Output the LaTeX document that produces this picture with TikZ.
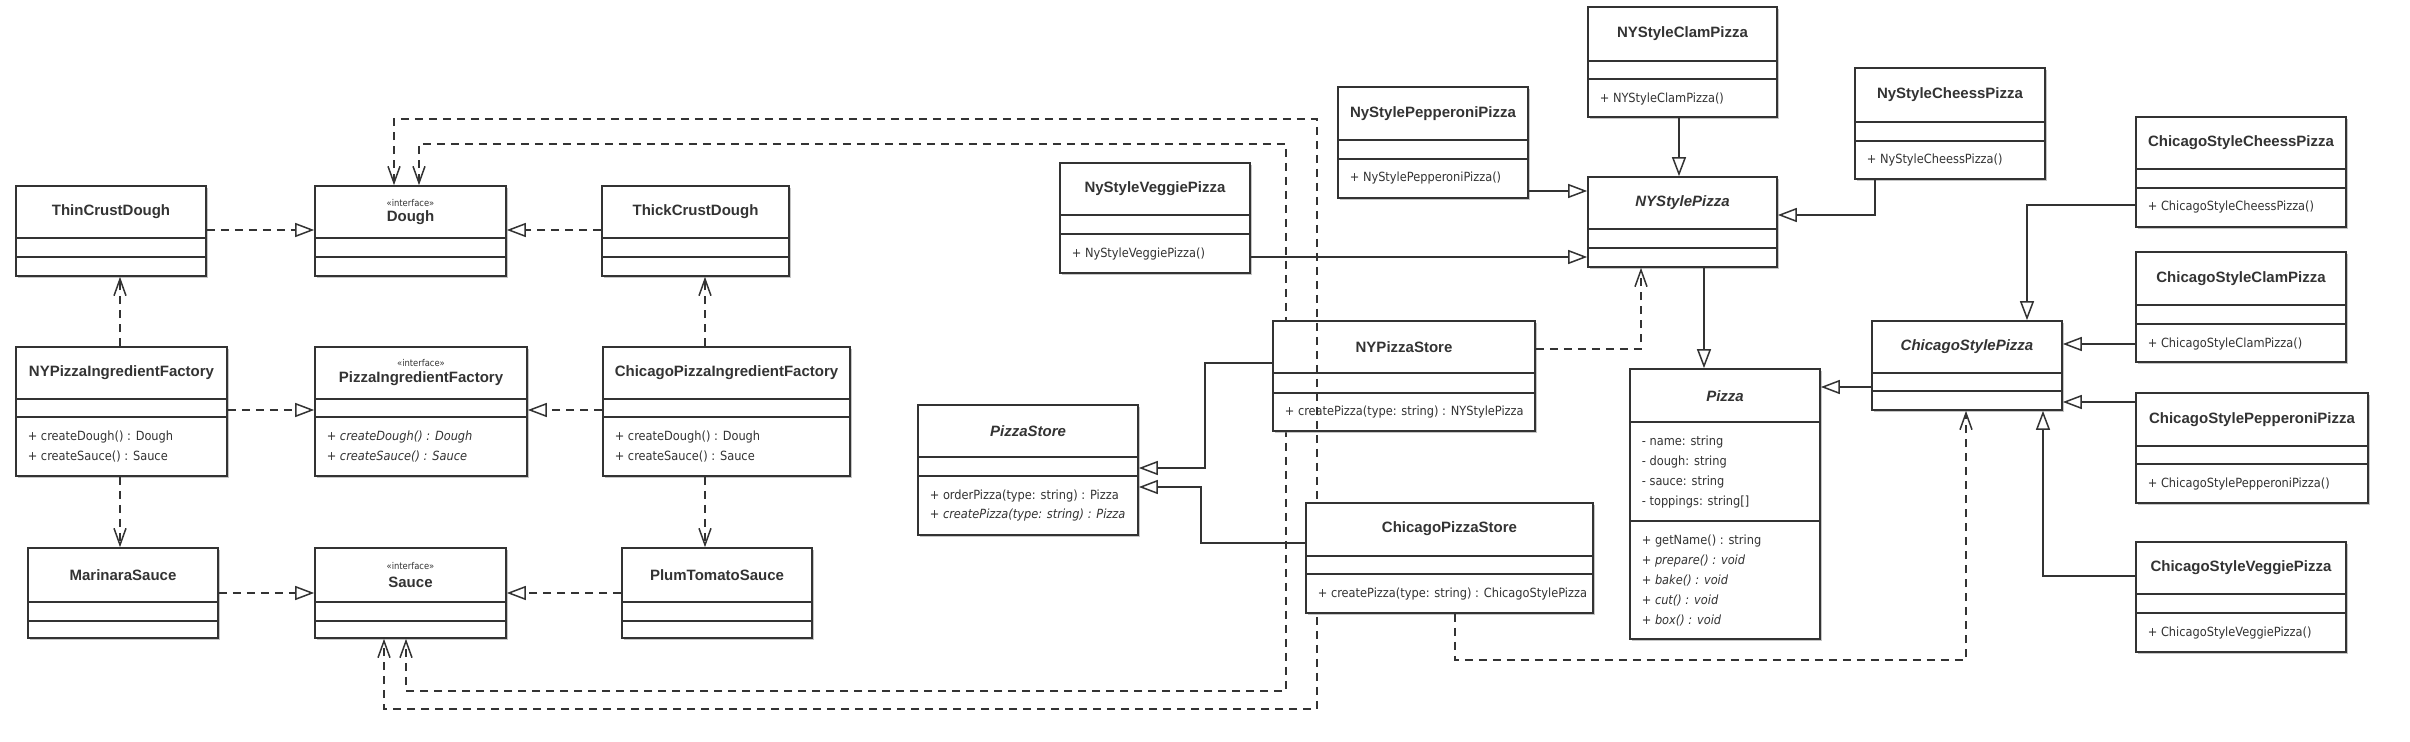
\documentclass[tikz,border=0pt]{standalone}
\usepackage{fontspec}
\setmainfont{Liberation Sans}
\newfontfamily\memfont{DejaVu Sans Condensed}
\usetikzlibrary{arrows.meta,fit,shadows}
\definecolor{ink}{HTML}{333333}
\tikzset{
 cls/.style={draw=ink, line width=0.5pt, fill=white, inner sep=0pt,
   drop shadow={shadow xshift=0.6pt, shadow yshift=-0.6pt, fill=black!45, opacity=0.5}},
 sepline/.style={draw=ink, line width=0.5pt},
 ttl/.style={font=\fontsize{4.5}{5}\selectfont\bfseries, text=ink, inner sep=0pt},
 ittl/.style={font=\fontsize{4.5}{5}\selectfont\bfseries\itshape, text=ink, inner sep=0pt},
 stereo/.style={font=\memfont\fontsize{2.8}{3}\selectfont, text=ink, inner sep=0pt},
 mem/.style={font=\memfont\fontsize{3.8}{4.5}\selectfont, text=ink, inner sep=0pt, anchor=west, xshift=3.6pt},
 imem/.style={font=\memfont\itshape\fontsize{3.8}{4.5}\selectfont, text=ink, inner sep=0pt, anchor=west, xshift=3.6pt},
 gen/.style={draw=ink, line width=0.45pt, -{Triangle[open, length=5.7pt, width=4.2pt, fill=white]}},
 real/.style={gen, dash pattern=on 2.4pt off 1.8pt},
 dep/.style={draw=ink, line width=0.45pt, dash pattern=on 2.4pt off 1.8pt, -{Straight Barb[length=5pt, width=3.6pt]}},
 depboth/.style={draw=ink, line width=0.45pt, dash pattern=on 2.4pt off 1.8pt, {Straight Barb[length=5pt, width=3.6pt]}-{Straight Barb[length=5pt, width=3.6pt]}},
}
\newcommand\umlbox[5]{\node[cls, fit={(#2,#3) (#4,#5)}] (#1) {};}
\newcommand\cseps[3]{\draw[sepline] (#1.west |- 0,#2) -- (#1.east |- 0,#2); \draw[sepline] (#1.west |- 0,#3) -- (#1.east |- 0,#3);}
\newcommand\ctitle[3]{\node[ttl] at (#1.center |- 0,#2) {#3};}
\newcommand\citl[3]{\node[ittl] at (#1.center |- 0,#2) {#3};}
\newcommand\cstereo[2]{\node[stereo] at (#1.center |- 0,#2) {«interface»};}
\newcommand\cmem[3]{\node[mem] at (#1.west |- 0,#2) {#3};}
\newcommand\cimem[3]{\node[imem] at (#1.west |- 0,#2) {#3};}
\begin{document}
\begin{tikzpicture}[x=0.3pt,y=-0.3pt]
\fill[white] (0,0) rectangle (2410,742);
\useasboundingbox (0,0) rectangle (2410,742);

% ---------- ingredient part ----------
\umlbox{thin}{16}{186}{206}{276}
\ctitle{thin}{212}{ThinCrustDough}\cseps{thin}{238}{257}
\umlbox{dough}{315}{186}{506}{276}
\cstereo{dough}{203}\ctitle{dough}{218}{Dough}\cseps{dough}{238}{257}
\umlbox{thick}{602}{186}{789}{276}
\ctitle{thick}{212}{ThickCrustDough}\cseps{thick}{238}{257}

\umlbox{nyf}{16}{347}{227}{476}
\ctitle{nyf}{373}{NYPizzaIngredientFactory}\cseps{nyf}{399}{417}
\cmem{nyf}{437}{+ createDough() : Dough}\cmem{nyf}{457}{+ createSauce() : Sauce}
\umlbox{pif}{315}{347}{527}{476}
\cstereo{pif}{363}\ctitle{pif}{379}{PizzaIngredientFactory}\cseps{pif}{399}{417}
\cimem{pif}{437}{+ createDough() : Dough}\cimem{pif}{457}{+ createSauce() : Sauce}
\umlbox{chf}{603}{347}{850}{476}
\ctitle{chf}{373}{ChicagoPizzaIngredientFactory}\cseps{chf}{399}{417}
\cmem{chf}{437}{+ createDough() : Dough}\cmem{chf}{457}{+ createSauce() : Sauce}

\umlbox{mar}{28}{548}{218}{638}
\ctitle{mar}{575}{MarinaraSauce}\cseps{mar}{602}{621}
\umlbox{sauce}{315}{548}{506}{638}
\cstereo{sauce}{566}\ctitle{sauce}{582}{Sauce}\cseps{sauce}{602}{621}
\umlbox{plum}{622}{548}{812}{638}
\ctitle{plum}{575}{PlumTomatoSauce}\cseps{plum}{602}{621}

\draw[real] (thin.east |- 0,230) -- (dough.west |- 0,230);
\draw[real] (thick.west |- 0,230) -- (dough.east |- 0,230);
\draw[dep] (nyf.north -| 120,0) -- (thin.south -| 120,0);
\draw[dep] (chf.north -| 705,0) -- (thick.south -| 705,0);
\draw[real] (nyf.east |- 0,410) -- (pif.west |- 0,410);
\draw[real] (chf.west |- 0,410) -- (pif.east |- 0,410);
\draw[dep] (nyf.south -| 120,0) -- (mar.north -| 120,0);
\draw[dep] (chf.south -| 705,0) -- (plum.north -| 705,0);
\draw[real] (mar.east |- 0,593) -- (sauce.west |- 0,593);
\draw[real] (plum.west |- 0,593) -- (sauce.east |- 0,593);

% ---------- pizza part ----------
\umlbox{veg}{1060}{163}{1250}{273}
\ctitle{veg}{189}{NyStyleVeggiePizza}\cseps{veg}{215}{234}\cmem{veg}{254}{+ NyStyleVeggiePizza()}
\umlbox{pep}{1338}{87}{1528}{198}
\ctitle{pep}{114}{NyStylePepperoniPizza}\cseps{pep}{140}{159}\cmem{pep}{178}{+ NyStylePepperoniPizza()}
\umlbox{clam}{1588}{7}{1777}{117}
\ctitle{clam}{34}{NYStyleClamPizza}\cseps{clam}{61}{79}\cmem{clam}{99}{+ NYStyleClamPizza()}
\umlbox{nycheese}{1855}{68}{2045}{179}
\ctitle{nycheese}{95}{NyStyleCheessPizza}\cseps{nycheese}{122}{141}\cmem{nycheese}{160}{+ NyStyleCheessPizza()}
\umlbox{nys}{1588}{177}{1777}{267}
\citl{nys}{203}{NYStylePizza}\cseps{nys}{229}{248}

\umlbox{ps}{918}{405}{1138}{535}
\citl{ps}{431}{PizzaStore}\cseps{ps}{457}{476}
\cmem{ps}{496}{+ orderPizza(type: string) : Pizza}\cimem{ps}{515}{+ createPizza(type: string) : Pizza}

\umlbox{pizza}{1630}{369}{1820}{639}
\citl{pizza}{396}{Pizza}
\draw[sepline] (pizza.west |- 0,422) -- (pizza.east |- 0,422);
\draw[sepline] (pizza.west |- 0,521) -- (pizza.east |- 0,521);
\cmem{pizza}{442}{- name: string}\cmem{pizza}{462}{- dough: string}
\cmem{pizza}{482}{- sauce: string}\cmem{pizza}{502}{- toppings: string[]}
\cmem{pizza}{541}{+ getName() : string}\cimem{pizza}{561}{+ prepare() : void}
\cimem{pizza}{581}{+ bake() : void}\cimem{pizza}{601}{+ cut() : void}\cimem{pizza}{621}{+ box() : void}

\umlbox{cs}{1872}{321}{2062}{410}
\citl{cs}{347}{ChicagoStylePizza}\cseps{cs}{373}{391}
\umlbox{ccheese}{2136}{117}{2346}{227}
\ctitle{ccheese}{143}{ChicagoStyleCheessPizza}\cseps{ccheese}{169}{188}\cmem{ccheese}{207}{+ ChicagoStyleCheessPizza()}
\umlbox{cclam}{2136}{252}{2346}{362}
\ctitle{cclam}{279}{ChicagoStyleClamPizza}\cseps{cclam}{305}{324}\cmem{cclam}{344}{+ ChicagoStyleClamPizza()}
\umlbox{cpep}{2136}{393}{2368}{503}
\ctitle{cpep}{420}{ChicagoStylePepperoniPizza}\cseps{cpep}{446}{464}\cmem{cpep}{484}{+ ChicagoStylePepperoniPizza()}
\umlbox{cveg}{2136}{542}{2346}{652}
\ctitle{cveg}{568}{ChicagoStyleVeggiePizza}\cseps{cveg}{594}{613}\cmem{cveg}{633}{+ ChicagoStyleVeggiePizza()}

% long dependencies Dough <-> Sauce
\draw[depboth] (dough.north -| 419,0) -- (419,144) -- (1286,144) -- (1286,691) -- (406,691) -- (sauce.south -| 406,0);

\umlbox{nyps}{1273}{321}{1535}{431}
\ctitle{nyps}{347}{NYPizzaStore}\cseps{nyps}{373}{393}\cmem{nyps}{412}{+ createPizza(type: string) : NYStylePizza}

\draw[depboth] (dough.north -| 394,0) -- (394,119) -- (1317,119) -- (1317,709) -- (384,709) -- (sauce.south -| 384,0);

\umlbox{cps}{1306}{503}{1593}{613}
\ctitle{cps}{529}{ChicagoPizzaStore}\cseps{cps}{556}{574}\cmem{cps}{594}{+ createPizza(type: string) : ChicagoStylePizza}

% generalisations NY
\draw[gen] (veg.east |- 0,257) -- (nys.west |- 0,257);
\draw[gen] (pep.east |- 0,191) -- (nys.west |- 0,191);
\draw[gen] (clam.south -| 1679,0) -- (nys.north -| 1679,0);
\draw[gen] (nycheese.south -| 1875,0) -- (1875,215) -- (nys.east |- 0,215);
\draw[gen] (nys.south -| 1704,0) -- (pizza.north -| 1704,0);
\draw[dep] (nyps.east |- 0,349) -- (1641,349) -- (nys.south -| 1641,0);
\draw[gen] (nyps.west |- 0,363) -- (1205,363) -- (1205,468) -- (ps.east |- 0,468);
\draw[gen] (cps.west |- 0,543) -- (1201,543) -- (1201,487) -- (ps.east |- 0,487);
\draw[dep] (cps.south -| 1455,0) -- (1455,660) -- (1966,660) -- (cs.south -| 1966,0);
% generalisations Chicago
\draw[gen] (cs.west |- 0,387) -- (pizza.east |- 0,387);
\draw[gen] (ccheese.west |- 0,205) -- (2027,205) -- (cs.north -| 2027,0);
\draw[gen] (cclam.west |- 0,344) -- (cs.east |- 0,344);
\draw[gen] (cpep.west |- 0,402) -- (cs.east |- 0,402);
\draw[gen] (cveg.west |- 0,576) -- (2043,576) -- (cs.south -| 2043,0);
\end{tikzpicture}
\end{document}
